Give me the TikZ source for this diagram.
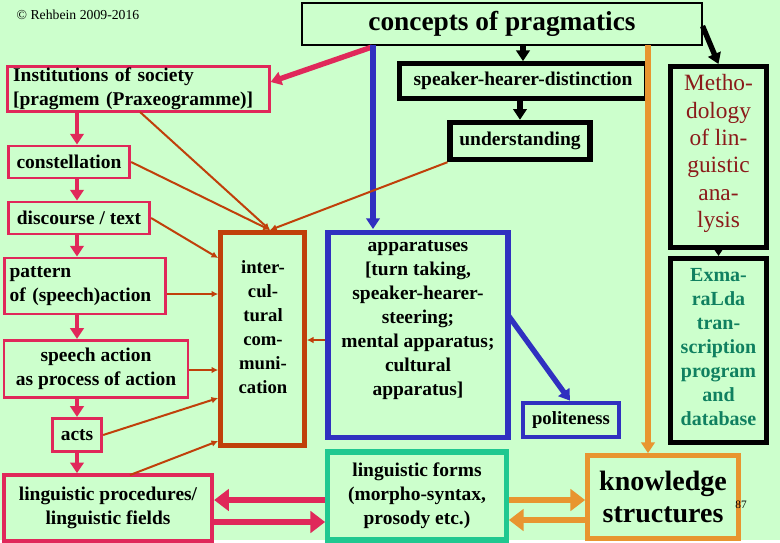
\documentclass[tikz,border=0pt]{standalone}
\usepackage{fontspec}
\setmainfont{Liberation Serif}
\usetikzlibrary{arrows.meta}
\definecolor{bg}{HTML}{CCFFCC}
\definecolor{pk}{HTML}{E0285A}
\definecolor{br}{HTML}{C0400A}
\definecolor{bl}{HTML}{3030C0}
\definecolor{tl}{HTML}{20C890}
\definecolor{og}{HTML}{E89530}
\definecolor{dr}{HTML}{8B1A1A}
\definecolor{tt}{HTML}{108060}
\begin{document}
\begin{tikzpicture}[x=0.75pt,y=-0.75pt,
  bx/.style={draw,inner sep=0pt,font=\bfseries\fontsize{14.6}{18}\selectfont,align=center},
  pkb/.style={bx,draw=pk,line width=2.2pt},
  blk/.style={bx,draw=black,line width=3.8pt},
  thin/.style={draw=br,line width=1.5pt,-{Latex[length=5pt,width=5pt]}},
  fat/.style={line width=3pt,-{Triangle[length=8pt,width=10pt]}},
  huge/.style={line width=5pt,-{Triangle[length=11pt,width=16pt]}}]
\fill[bg] (0,0) rectangle (780,540);
\node[font=\fontsize{10.3}{12}\selectfont] (cr) at (78,15) {© Rehbein 2009-2016};
\node[draw,fill=bg,line width=0.8pt,minimum width=300pt,minimum height=31.5pt,font=\bfseries\fontsize{20.5}{24}\selectfont] (ti) at (502,24) {concepts of pragmatics};
% pink chain
\node[pkb,align=left,inner xsep=3pt,minimum width=196pt,minimum height=34pt,text width=188pt] (in) at (138.5,89) {Institutions of society\\{[}pragmem (Praxeogramme)]};
\node[pkb,minimum width=91pt,minimum height=24pt] (co) at (69,162) {constellation};
\node[pkb,minimum width=106pt,minimum height=24pt] (di) at (79,218) {discourse / text};
\node[pkb,align=left,inner xsep=3pt,minimum width=121pt,minimum height=42pt,text width=113pt] (pa) at (85,286) {pattern\\of (speech)action};
\node[pkb,minimum width=138pt,minimum height=43pt] (sa) at (96,369) {speech action\\as process of action};
\node[pkb,minimum width=37pt,minimum height=25pt] (ac) at (77,435) {acts};
\node[bx,draw=pk,line width=3.2pt,minimum width=156pt,minimum height=49pt] (lp) at (108,508) {linguistic procedures/\\linguistic fields};
% middle
\node[bx,draw=br,line width=3.5pt,minimum width=63pt,minimum height=160pt,anchor=north] (ic) at (262.5,230) {};
\node[font=\bfseries\fontsize{14}{18}\selectfont,align=center,anchor=north] (ict) at (263,256) {inter-\\cul-\\tural\\com-\\muni-\\cation};
\node[bx,draw=bl,line width=3.8pt,minimum width=135pt,minimum height=154pt,anchor=north] (ap) at (418,230) {};
\node[font=\bfseries\fontsize{14.6}{18}\selectfont,align=center,anchor=north] (apt) at (418,236) {apparatuses\\{[}turn taking,\\speaker-hearer-\\steering;\\mental apparatus;\\cultural\\apparatus]};
\node[bx,draw=bl,line width=3pt,minimum width=72pt,minimum height=26pt,font=\bfseries\fontsize{14}{16}\selectfont] (po) at (571,420) {politeness};
\node[bx,draw=tl,line width=3.8pt,minimum width=134pt,minimum height=66pt] (lf) at (417,496) {linguistic forms\\(morpho-syntax,\\prosody etc.)};
\node[bx,draw=og,line width=3.8pt,minimum width=113pt,minimum height=62pt,font=\bfseries\fontsize{21}{24}\selectfont] (kn) at (663,497) {knowledge\\structures};
\node[font=\fontsize{8.5}{10}\selectfont] (n87) at (741,505) {87};
% top right
\node[blk,minimum width=185pt,minimum height=26pt] (sh) at (523,81) {speaker-hearer-distinction};
\node[blk,minimum width=105pt,minimum height=28pt] (un) at (520,141) {understanding};
\node[blk,minimum width=72pt,minimum height=136pt,anchor=north] (me) at (718.5,64) {};
\node[text=dr,font=\fontsize{17.5}{20.5}\selectfont,align=center,anchor=north] (met) at (718.5,70) {Metho-\\dology\\of lin-\\guistic\\ana-\\lysis};
\node[blk,minimum width=72pt,minimum height=138pt,anchor=north] (ex) at (718.5,256) {};
\node[text=tt,font=\bfseries\fontsize{15}{18}\selectfont,align=center,anchor=north] (ext) at (718.5,264) {Exma-\\raLda\\tran-\\scription\\program\\and\\database};
% arrows
\draw[pk,fat,line width=4pt] (372,47) -- (in.east|-0,82);
\draw[fat,line width=4pt] (sh.north|-ti.south) -- (sh.north);
\draw[fat,line width=4pt] (un.north|-sh.south) -- (un.north);
\draw[fat,line width=4pt] (ti.east)+(0,2) -- (me.north);
\draw[fat,line width=4pt] (me.south) -- (ex.north);
\draw[bl,fat,line width=5pt] (373,45) -- (373,229);
\draw[og,fat,line width=4pt] (648,45) -- (kn.north-|648,0);
\foreach \a/\b in {in/co,co/di,di/pa,pa/sa,sa/ac,ac/lp}
  \draw[pk,fat] (\a.south-|77,0) -- (\b.north-|77,0);
\draw[thin] (140,112) -- (270,230);
\draw[thin] (co.east) -- (270,230);
\draw[thin] (un.south west) -- (270,230);
\draw[thin] (di.east) -- (ic.west|-0,258);
\draw[thin] (pa.east|-0,294) -- (ic.west|-0,294);
\draw[thin] (sa.east|-0,370) -- (ic.west|-0,370);
\draw[thin] (ac.east) -- (ic.west|-0,398);
\draw[thin] (130,475) -- (ic.west|-0,441);
\draw[thin] (ap.west|-0,340) -- (ic.east|-0,340);
\draw[bl,fat,line width=4pt] (508,315) -- (po.north-|570,0);
\draw[pk,huge] (lf.west|-0,500) -- (lp.east|-0,500);
\draw[pk,huge] (lp.east|-0,522) -- (lf.west|-0,522);
\draw[og,huge] (lf.east|-0,500) -- (kn.west|-0,500);
\draw[og,huge] (kn.west|-0,520) -- (lf.east|-0,520);
\end{tikzpicture}
\end{document}
